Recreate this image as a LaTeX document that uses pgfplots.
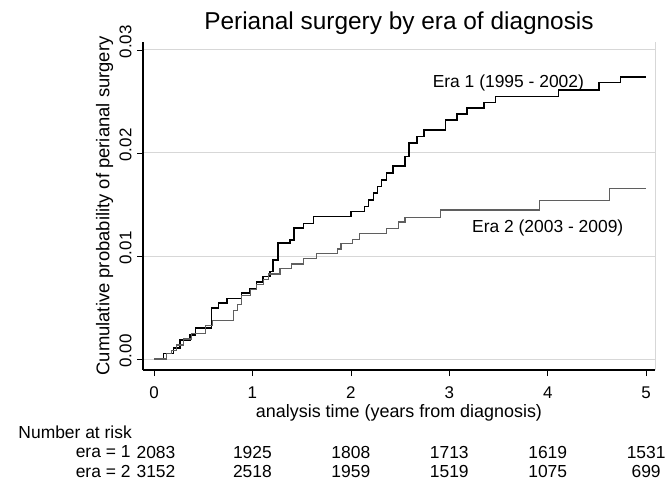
\documentclass[border=0pt]{standalone}
\usepackage{pgfplots}
\pgfplotsset{compat=1.18}
\usepackage{fontspec}
\setmainfont{Liberation Sans}
\definecolor{gridgray}{RGB}{215,215,215}
\definecolor{era2gray}{RGB}{95,95,95}
\newcommand{\med}{\fontsize{17}{20}\selectfont}
\newcommand{\medl}{\fontsize{17.5}{20}\selectfont}
\begin{document}
\begin{tikzpicture}
\path[use as bounding box] (0,0) rectangle (667bp,481bp);
\begin{axis}[
  at={(143bp,111bp)}, anchor=south west,
  scale only axis, width=512bp, height=328bp,
  xmin=-0.112, xmax=5.09,
  ymin=-0.00107, ymax=0.03077,
  axis x line*=bottom, axis y line*=left,
  axis line style={black, line width=1.1pt, -},
  xtick={0,1,2,3,4,5},
  ytick={0,0.01,0.02,0.03},
  tick align=outside,
  major tick length=6bp,
  tick style={black, line width=0.6pt},
  ymajorgrids,
  grid style={gridgray, line width=0.9pt},
  scaled y ticks=false,
  /pgf/number format/assume math mode=true,
  y tick label style={/pgf/number format/fixed, /pgf/number format/fixed zerofill, /pgf/number format/precision=2},
  yticklabel style={yshift=8bp, rotate=90, anchor=south, font=\med},
  yticklabel shift=2bp,
  xticklabel style={font=\med, yshift=-7bp},
  xlabel={analysis time (years from diagnosis)},
  ylabel={Cumulative probability of perianal surgery},
  xlabel style={font=\fontsize{18}{20}\selectfont, yshift=1bp},
  ylabel style={font=\fontsize{18.5}{20}\selectfont, at={(axis description cs:-0.058,0.5)}, anchor=south, inner sep=0pt},
  title={Perianal surgery by era of diagnosis},
  title style={font=\fontsize{24.5}{28}\selectfont, yshift=-2bp},
  clip=false,
]
\draw[gridgray, line width=0.9pt] (rel axis cs:1,0) -- (rel axis cs:1,1);
\addplot[const plot, black, line width=1.6pt] coordinates {
(0,0) (0.095,0.00055) (0.196,0.00104) (0.264,0.00184) (0.366,0.00233)
(0.42,0.00298) (0.585,0.00492) (0.654,0.00541) (0.739,0.00589) (0.89,0.00638)
(0.976,0.00686) (1.04,0.0075) (1.11,0.008) (1.18,0.00848) (1.21,0.00961)
(1.26,0.01123) (1.38,0.01155) (1.42,0.01269) (1.52,0.01317) (1.62,0.01382)
(2.0,0.0143) (2.14,0.01479) (2.18,0.01544) (2.23,0.01609) (2.27,0.01673)
(2.31,0.01738) (2.36,0.01803) (2.43,0.01874) (2.55,0.01964) (2.59,0.02094)
(2.67,0.02158) (2.74,0.02223) (2.96,0.0232) (3.08,0.02379) (3.18,0.02434)
(3.35,0.02488) (3.47,0.02547) (4.11,0.02612) (4.52,0.02683) (4.74,0.02735)
(5.0,0.02735)
};
\addplot[const plot, era2gray, line width=1.1pt] coordinates {
(0,0) (0.13,0.0005) (0.18,0.0008) (0.23,0.00136) (0.3,0.00194) (0.38,0.00243)
(0.52,0.00324) (0.59,0.00372) (0.81,0.00469) (0.85,0.0053) (0.89,0.00615)
(0.98,0.00676) (1.04,0.00725) (1.11,0.00773) (1.16,0.00825) (1.28,0.00874)
(1.40,0.00922) (1.52,0.00971) (1.65,0.0102) (1.86,0.01068) (1.9,0.01117)
(2.02,0.01159) (2.09,0.01217) (2.36,0.01265) (2.48,0.0133) (2.55,0.01375)
(2.91,0.01446) (3.92,0.01537) (4.63,0.01659) (5.0,0.01659)
};
\node[font=\medl] at (axis cs:3.60,0.0268) {Era 1 (1995 - 2002)};
\node[font=\medl] at (axis cs:4.00,0.0127) {Era 2 (2003 - 2009)};
% Number at risk table
\node[font=\medl, anchor=west] at (axis cs:-1.413,-0.00709) {Number at risk};
\node[font=\medl, anchor=east] at (axis cs:-0.203,-0.00903) {era = 1};
\node[font=\medl, anchor=east] at (axis cs:-0.203,-0.01097) {era = 2};
\node[font=\medl] at (axis cs:0.02,-0.00903) {2083};
\node[font=\medl] at (axis cs:1,-0.00903) {1925};
\node[font=\medl] at (axis cs:2,-0.00903) {1808};
\node[font=\medl] at (axis cs:3,-0.00903) {1713};
\node[font=\medl] at (axis cs:4,-0.00903) {1619};
\node[font=\medl] at (axis cs:5,-0.00903) {1531};
\node[font=\medl] at (axis cs:0.02,-0.01097) {3152};
\node[font=\medl] at (axis cs:1,-0.01097) {2518};
\node[font=\medl] at (axis cs:2,-0.01097) {1959};
\node[font=\medl] at (axis cs:3,-0.01097) {1519};
\node[font=\medl] at (axis cs:4,-0.01097) {1075};
\node[font=\medl] at (axis cs:5,-0.01097) {699};
\end{axis}
\end{tikzpicture}
\end{document}
